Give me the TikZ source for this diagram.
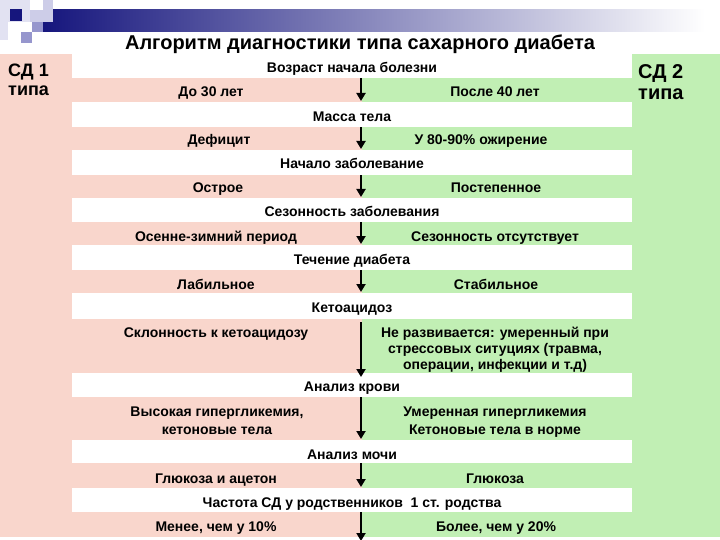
\documentclass[tikz,border=0pt]{standalone}
\usepackage{fontspec}
\setmainfont{Liberation Sans}
\usetikzlibrary{arrows.meta}
\definecolor{pinkbg}{RGB}{249,214,204}
\definecolor{greenbg}{RGB}{193,239,180}
\definecolor{navy}{RGB}{22,22,125}
\definecolor{lav1}{RGB}{226,226,242}
\definecolor{lav2}{RGB}{205,205,232}
\definecolor{lav3}{RGB}{150,150,205}
\newcommand\myfs[2]{\fontsize{#1}{#2}\selectfont}
\begin{document}
\begin{tikzpicture}[x=1pt,y=-1pt,
  wrow/.style={fill=white, draw=none, minimum width=560pt, inner sep=0pt, anchor=north west},
  hdr/.style={font=\bfseries\myfs{14}{16}, inner sep=0pt, anchor=base, align=center},
  btxt/.style={font=\bfseries\myfs{14}{16}, inner sep=0pt, anchor=base, align=center},
  arr/.style={line width=2.6pt, -{Triangle[width=9pt,length=8pt]}, shorten >=1pt}]
\useasboundingbox (0,0) rectangle (720,540);
\fill[white] (0,0) rectangle (720,540);
% top decoration
\shade[left color=navy, right color=white] (43,10) rectangle (705,32);
\fill[lav1] (0,0) rectangle (8,40);
\fill[lav1] (8,0) rectangle (30,22);
\fill[navy] (10,9) rectangle (22,21);
\fill[lav2] (30,10) rectangle (43,22);
\fill[lav2] (43,0) rectangle (53,22);
\fill[lav3] (32,22) rectangle (43,32);
\fill[lav3] (21,32) rectangle (32,43);
% title
\node[font=\bfseries\myfs{20}{24}, inner sep=0pt, anchor=base] (title) at (360,50) {Алгоритм диагностики типа сахарного диабета};
% side columns
\fill[pinkbg] (0,54) rectangle (362,537);
\fill[greenbg] (362,54) rectangle (720,537);
\node[font=\bfseries\myfs{18}{19}, inner sep=0pt, anchor=base west, align=left] (sd1) at (8,96) {СД 1\\типа};
\node[font=\bfseries\myfs{20}{21}, inner sep=0pt, anchor=base west, align=left] (sd2) at (638,100) {СД 2\\типа};
% white header rows
\node[wrow, minimum height=24pt] (w1) at (72,54) {};
\node[wrow, minimum height=25pt] (w2) at (72,102) {};
\node[wrow, minimum height=25pt] (w3) at (72,150) {};
\node[wrow, minimum height=24pt] (w4) at (72,198) {};
\node[wrow, minimum height=25pt] (w5) at (72,245) {};
\node[wrow, minimum height=26pt] (w6) at (72,293) {};
\node[wrow, minimum height=24pt] (w7) at (72,373) {};
\node[wrow, minimum height=23pt] (w8) at (72,440) {};
\node[wrow, minimum height=24pt] (w9) at (72,488) {};
% header texts
\node[hdr] (h1) at (352,73) {Возраст начала болезни};
\node[hdr] (h2) at (352,122) {Масса тела};
\node[hdr] (h3) at (352,168.5) {Начало заболевание};
\node[hdr] (h4) at (352,217) {Сезонность заболевания};
\node[hdr] (h5) at (352,264.5) {Течение диабета};
\node[hdr] (h6) at (352,312) {Кетоацидоз};
\node[hdr] (h7) at (352,391.5) {Анализ крови};
\node[hdr] (h8) at (352,459) {Анализ мочи};
\node[hdr] (h9) at (352,507) {Частота СД у родственников~~1 ст. родства};
% band texts
\node[btxt] (l1) at (211,97) {До 30 лет};
\node[btxt] (r1) at (495,97) {После 40 лет};
\node[btxt] (l2) at (219,145) {Дефицит};
\node[btxt] (r2) at (481,145) {У 80-90\% ожирение};
\node[btxt] (l3) at (218,193) {Острое};
\node[btxt] (r3) at (496,193) {Постепенное};
\node[btxt] (l4) at (216,241) {Осенне-зимний период};
\node[btxt] (r4) at (495,241) {Сезонность отсутствует};
\node[btxt] (l5) at (216,289) {Лабильное};
\node[btxt] (r5) at (496,289) {Стабильное};
\node[btxt] (l6) at (216,337) {Склонность к кетоацидозу};
\node[btxt] (r6) at (495,369) {Не развивается: умеренный при\\стрессовых ситуциях (травма,\\операции, инфекции и т.д)};
\node[btxt, font=\bfseries\myfs{14}{18}] (l7) at (217,434) {Высокая гипергликемия,\\кетоновые тела};
\node[btxt, font=\bfseries\myfs{14}{18}] (r7) at (495,434) {Умеренная гипергликемия\\Кетоновые тела в норме};
\node[btxt] (l8) at (216,483) {Глюкоза и ацетон};
\node[btxt] (r8) at (495,483) {Глюкоза};
\node[btxt] (l9) at (216,531) {Менее, чем у 10\%};
\node[btxt] (r9) at (496,531) {Более, чем у 20\%};
% arrows
\coordinate (sx) at (361,0);
\coordinate (bend) at (361,541);
\draw[arr] (w1.south -| sx) -- (w2.north -| sx);
\draw[arr] (w2.south -| sx) -- (w3.north -| sx);
\draw[arr] (w3.south -| sx) -- (w4.north -| sx);
\draw[arr] (w4.south -| sx) -- (w5.north -| sx);
\draw[arr] (w5.south -| sx) -- (w6.north -| sx);
\draw[arr, shorten <=3pt, shorten >=-4pt] (w6.south -| sx) -- (w7.north -| sx);
\draw[arr] (w7.south -| sx) -- (w8.north -| sx);
\draw[arr] (w8.south -| sx) -- (w9.north -| sx);
\draw[arr, shorten >=0pt] (w9.south -| sx) -- (bend);
\end{tikzpicture}
\end{document}
